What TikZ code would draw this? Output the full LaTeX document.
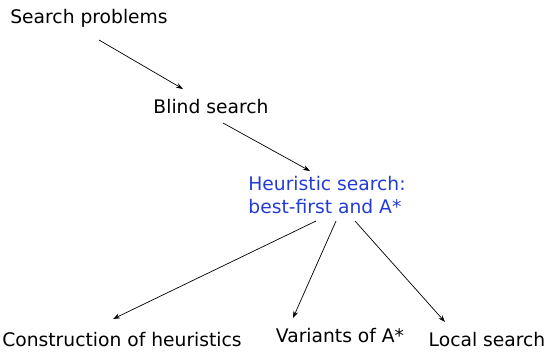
\documentclass[tikz,border=0pt]{standalone}
\usepackage{fontspec}
\setmainfont{DejaVu Sans}
\usepackage{xcolor}
\usetikzlibrary{arrows.meta, calc, positioning}
\definecolor{heublue}{RGB}{35,60,215}

\begin{document}
\begin{tikzpicture}[x=0.025cm, y=-0.025cm, every node/.style={inner sep=0pt, font=\fontsize{13.3}{16}\selectfont}, arr/.style={-{Stealth[length=5pt,width=3.5pt]}, line width=0.5pt}]
		\useasboundingbox (0,0) rectangle (556,351);
		\node (sp) at (89,18) {Search problems};
		\node (bs) at (211,107) {Blind search};
		\node[text=heublue, align=left] (hs) at (327,195) {Heuristic search:\\best-first and A*};
		\node (ch) at (122,340) {Construction of heuristics};
		\node (va) at (340,336) {Variants of A*};
		\node (ls) at (487,340) {Local search};
		\draw[arr] ($(sp)+(10,22)$)--($(bs)+(-28,-18)$);
		\draw[arr] ($(bs)+(12,16)$)--($(hs)+(-17,-24)$);
		\foreach \s/\t/\a/\b in {-11/ch/-9/-21, 9/va/-47/-18, 28/ls/-42/-18}{\draw[arr] ($(hs)+(\s,26)$)--($(\t)+(\a,\b)$);}
	\end{tikzpicture}
\end{document}
